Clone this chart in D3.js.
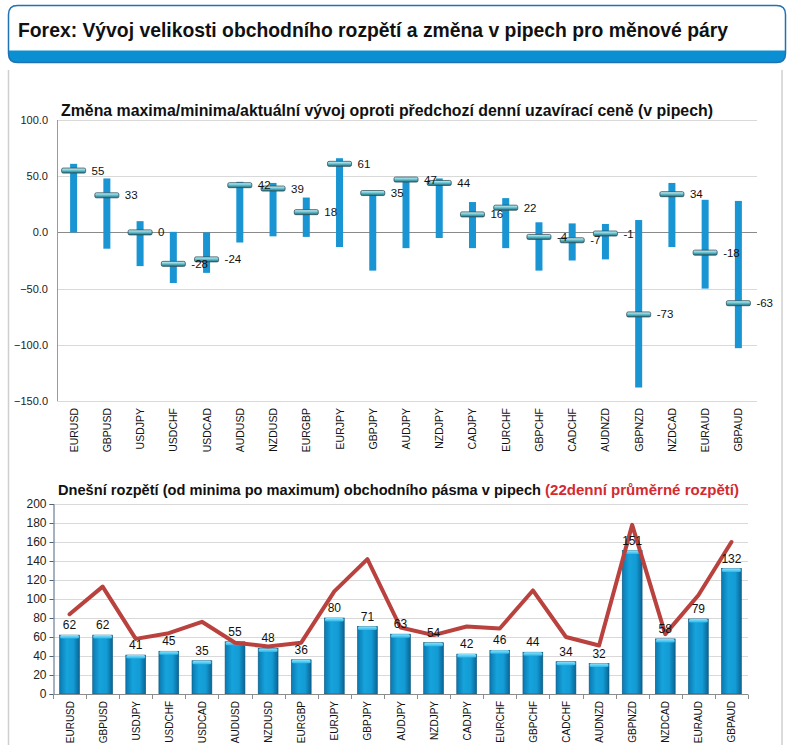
<!DOCTYPE html>
<html><head><meta charset="utf-8">
<script src="https://cdn.jsdelivr.net/npm/d3@7"></script>
<style>
html,body{margin:0;padding:0;background:#fff;}
svg{display:block;font-family:"Liberation Sans",Arial,sans-serif;}
</style></head>
<body>
<svg id="c" width="793" height="745"></svg>
<script>
const pairs = ["EURUSD","GBPUSD","USDJPY","USDCHF","USDCAD","AUDUSD","NZDUSD","EURGBP","EURJPY","GBPJPY","AUDJPY","NZDJPY","CADJPY","EURCHF","GBPCHF","CADCHF","AUDNZD","GBPNZD","NZDCAD","EURAUD","GBPAUD"];
const highs   = [61, 48, 10, 0.5, 0, 45, 44, 31, 66, 36, 48.5, 48, 27, 30.5, 9, 8, 7.5, 11, 44, 29, 28];
const lows    = [0, -14.5, -30, -45, -36, -9, -3.5, -4, -13, -34, -14, -5, -14, -14, -34, -25, -24, -138, -13, -50, -103];
const current = [55, 33, 0, -28, -24, 42, 39, 18, 61, 35, 47, 44, 16, 22, -4, -7, -1, -73, 34, -18, -63];
const topTicks = [100, 50, 0, -50, -100, -150];

const todayRange = [62, 62, 41, 45, 35, 55, 48, 36, 80, 71, 63, 54, 42, 46, 44, 34, 32, 151, 58, 79, 132];
const avgRange22 = [84, 113, 58, 64, 76, 54, 50, 54, 108, 142, 70, 62, 71, 69, 109, 60, 51, 178, 63, 104, 160];
const bottomTicks = [0, 20, 40, 60, 80, 100, 120, 140, 160, 180, 200];

const mainTitle = "Forex: Vývoj velikosti obchodního rozpětí a změna v pipech pro měnové páry";
const topTitle = "Změna maxima/minima/aktuální vývoj oproti předchozí denní uzavírací ceně (v pipech)";
const bottomTitleA = "Dnešní rozpětí (od minima po maximum) obchodního pásma v pipech";
const bottomTitleB = "(22denní průměrné rozpětí)";

const svg = d3.select("#c");
const defs = svg.append("defs");

// gradients
const capG = defs.append("linearGradient").attr("id","capG").attr("x1",0).attr("y1",0).attr("x2",0).attr("y2",1);
capG.append("stop").attr("offset","0%").attr("stop-color","#d8f6f8");
capG.append("stop").attr("offset","45%").attr("stop-color","#6cc8d6");
capG.append("stop").attr("offset","100%").attr("stop-color","#1d6878");

const barG = defs.append("linearGradient").attr("id","barG").attr("x1",0).attr("y1",0).attr("x2",1).attr("y2",0);
barG.append("stop").attr("offset","0%").attr("stop-color","#0a78b0");
barG.append("stop").attr("offset","35%").attr("stop-color","#16a3dc");
barG.append("stop").attr("offset","70%").attr("stop-color","#139bd4");
barG.append("stop").attr("offset","100%").attr("stop-color","#0a6494");

const topCapG = defs.append("linearGradient").attr("id","topCapG").attr("x1",0).attr("y1",0).attr("x2",0).attr("y2",1);
topCapG.append("stop").attr("offset","0%").attr("stop-color","#8fe3fb");
topCapG.append("stop").attr("offset","100%").attr("stop-color","#2bb7ea");

// ===== Header box =====
const hx = 8.5, hy = 5.5, hw = 777, hh = 57, r = 9;
svg.append("path")
  .attr("d", `M${hx},${hy+45} L${hx},${hy+hh-r} Q${hx},${hy+hh} ${hx+r},${hy+hh} L${hx+hw-r},${hy+hh} Q${hx+hw},${hy+hh} ${hx+hw},${hy+hh-r} L${hx+hw},${hy+45} Z`)
  .attr("fill","#0a90d2");
svg.append("path")
  .attr("d", `M${hx+r},${hy} L${hx+hw-r},${hy} Q${hx+hw},${hy} ${hx+hw},${hy+r} L${hx+hw},${hy+hh-r} Q${hx+hw},${hy+hh} ${hx+hw-r},${hy+hh} L${hx+r},${hy+hh} Q${hx},${hy+hh} ${hx},${hy+hh-r} L${hx},${hy+r} Q${hx},${hy} ${hx+r},${hy} Z`)
  .attr("fill","none").attr("stroke","#1f72b4").attr("stroke-width",1.5);
svg.append("text").attr("x",18).attr("y",37)
  .attr("font-size",21).attr("font-weight","bold").attr("fill","#111")
  .attr("textLength",710).attr("lengthAdjust","spacingAndGlyphs")
  .text(mainTitle);

// ===== Main panel =====
svg.append("line").attr("x1",8.5).attr("x2",8.5).attr("y1",70).attr("y2",745).attr("stroke","#cfcfcf").attr("stroke-width",1.5);
svg.append("line").attr("x1",782).attr("x2",782).attr("y1",70).attr("y2",745).attr("stroke","#cfcfcf").attr("stroke-width",1.5);

// ===== Top chart =====
const x1 = d3.scaleBand().domain(pairs).range([57, 755]);
const y1 = d3.scaleLinear().domain([-150, 100]).range([401, 120]);

svg.append("text").attr("x",61).attr("y",116)
  .attr("font-size",16.5).attr("font-weight","bold").attr("fill","#111")
  .attr("textLength",652).attr("lengthAdjust","spacingAndGlyphs")
  .text(topTitle);

const g1 = svg.append("g");
g1.selectAll("line.grid").data(topTicks).join("line")
  .attr("x1",57).attr("x2",757)
  .attr("y1",d=>Math.round(y1(d))+0.5).attr("y2",d=>Math.round(y1(d))+0.5)
  .attr("stroke",d=>d===0?"#8a8a8a":"#d9d9d9").attr("stroke-width",1);
g1.append("line").attr("x1",57.5).attr("x2",57.5).attr("y1",y1(100)).attr("y2",y1(-150)).attr("stroke","#9a9a9a");
g1.selectAll("text.yt").data(topTicks).join("text")
  .attr("x",48).attr("y",d=>y1(d)+4).attr("text-anchor","end")
  .attr("font-size",11).attr("fill","#222")
  .text(d=>d3.format(".1f")(d));

const cx1 = d => x1(d) + x1.bandwidth()/2;
g1.selectAll("rect.rng").data(pairs).join("rect")
  .attr("x",d=>cx1(d)-3.5).attr("width",7)
  .attr("y",(d,i)=>y1(highs[i])).attr("height",(d,i)=>y1(lows[i])-y1(highs[i]))
  .attr("fill","#1895d2");
g1.selectAll("rect.cap").data(pairs).join("rect")
  .attr("x",d=>cx1(d)-12).attr("width",24)
  .attr("y",(d,i)=>y1(current[i])-2.5).attr("height",5).attr("rx",1.5)
  .attr("fill","url(#capG)").attr("stroke","#2e4f5c").attr("stroke-width",0.8);
g1.selectAll("text.lbl").data(pairs).join("text")
  .attr("x",d=>cx1(d)+18).attr("y",(d,i)=>y1(current[i])+4)
  .attr("font-size",11.5).attr("fill","#111")
  .text((d,i)=>current[i]);
g1.selectAll("text.xl").data(pairs).join("text")
  .attr("transform",d=>`translate(${cx1(d)+4},408) rotate(-90)`)
  .attr("text-anchor","end").attr("font-size",10.5).attr("fill","#111")
  .text(d=>d);

// ===== Bottom chart =====
const x2 = d3.scaleBand().domain(pairs).range([53, 748]).paddingInner(0.4).paddingOuter(0.2);
const xb = d3.scaleBand().domain(pairs).range([53, 748]);
const y2 = d3.scaleLinear().domain([0, 200]).range([694, 504]);

svg.append("text").attr("x",58).attr("y",495)
  .attr("font-size",15).attr("font-weight","bold").attr("fill","#111")
  .attr("textLength",483).attr("lengthAdjust","spacingAndGlyphs")
  .text(bottomTitleA);
svg.append("text").attr("x",545).attr("y",495)
  .attr("font-size",15).attr("font-weight","bold").attr("fill","#d42a30")
  .attr("textLength",194).attr("lengthAdjust","spacingAndGlyphs")
  .text(bottomTitleB);

const g2 = svg.append("g");
g2.selectAll("line.grid").data(bottomTicks.filter(d=>d>0)).join("line")
  .attr("x1",53).attr("x2",748)
  .attr("y1",d=>Math.round(y2(d))+0.5).attr("y2",d=>Math.round(y2(d))+0.5)
  .attr("stroke","#d9d9d9");
// y axis
const yAx = g2.append("g").attr("transform","translate(53.5,0)")
  .call(d3.axisLeft(y2).tickValues(bottomTicks).tickSize(4).tickFormat(d3.format("d")));
yAx.select(".domain").attr("stroke","#4d6480");
yAx.selectAll(".tick line").attr("stroke","#4d6480");
yAx.selectAll(".tick text").attr("font-size",12).attr("fill","#222").attr("font-family","Liberation Sans, Arial, sans-serif").attr("x",-7);

// bars
g2.selectAll("rect.bar").data(pairs).join("rect")
  .attr("x",d=>x2(d)).attr("width",x2.bandwidth())
  .attr("y",(d,i)=>y2(todayRange[i])).attr("height",(d,i)=>y2(0)-y2(todayRange[i]))
  .attr("fill","url(#barG)").attr("stroke","#0b5a82").attr("stroke-width",0.6);
g2.selectAll("rect.top").data(pairs).join("rect")
  .attr("x",d=>x2(d)+0.5).attr("width",x2.bandwidth()-1)
  .attr("y",(d,i)=>y2(todayRange[i])).attr("height",3.5).attr("rx",1.5)
  .attr("fill","url(#topCapG)");

// x axis
g2.append("line").attr("x1",53).attr("x2",748).attr("y1",694.5).attr("y2",694.5).attr("stroke","#8c8c8c");
g2.selectAll("line.xt").data(pairs.concat(["__end"])).join("line")
  .attr("x1",(d,i)=>Math.round(53 + i*xb.step())+0.5).attr("x2",(d,i)=>Math.round(53 + i*xb.step())+0.5)
  .attr("y1",694.5).attr("y2",699).attr("stroke","#8c8c8c");

// line
const line = d3.line().x((d,i)=>xb(pairs[i])+xb.bandwidth()/2).y(d=>y2(d));
g2.append("path").datum(avgRange22).attr("d",line)
  .attr("fill","none").attr("stroke","#b9423f").attr("stroke-width",4)
  .attr("stroke-linejoin","round").attr("stroke-linecap","round");

// labels
g2.selectAll("text.vl").data(pairs).join("text")
  .attr("x",d=>xb(d)+xb.bandwidth()/2).attr("y",(d,i)=>y2(todayRange[i])-6)
  .attr("text-anchor","middle").attr("font-size",12).attr("fill","#111")
  .text((d,i)=>todayRange[i]);
g2.selectAll("text.xl").data(pairs).join("text")
  .attr("transform",d=>`translate(${xb(d)+xb.bandwidth()/2+4},701) rotate(-90)`)
  .attr("text-anchor","end").attr("font-size",10).attr("fill","#111")
  .text(d=>d);
</script>
</body></html>
